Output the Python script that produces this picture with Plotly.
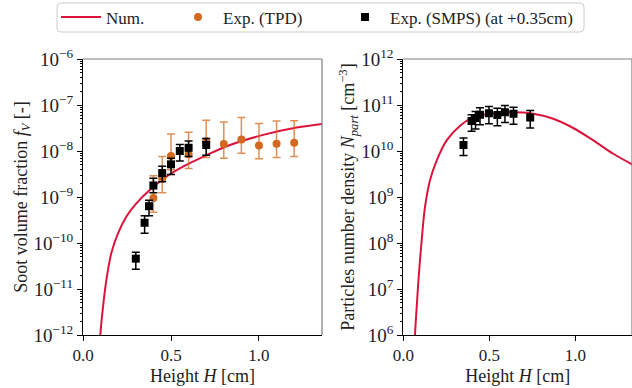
import plotly.graph_objects as go
import numpy as np

# ---------------- data ----------------
# Left: soot volume fraction (log10 values)
H_num_fv = [0.090, 0.0985, 0.114, 0.133, 0.161, 0.199, 0.246, 0.303, 0.379, 0.473, 0.568,
            0.703, 0.835, 1.024, 1.214, 1.36]
log_num_fv = [-13.0, -12.0, -11.38, -10.80, -10.22, -9.79, -9.43, -9.14, -8.85, -8.56, -8.34,
              -8.09, -7.87, -7.65, -7.49, -7.41]

H_tpd = [0.40, 0.45, 0.50, 0.60, 0.70, 0.80, 0.90, 1.00, 1.10, 1.20]
log_tpd = [-9.02, -8.60, -8.11, -8.07, -7.79, -7.85, -7.75, -7.88, -7.84, -7.82]
log_tpd_hi = [-8.54, -8.12, -7.63, -7.59, -7.33, -7.37, -7.27, -7.40, -7.35, -7.34]
log_tpd_lo = [-9.33, -8.91, -8.41, -8.38, -8.14, -8.16, -8.05, -8.17, -8.14, -8.12]

H_smps_fv = [0.30, 0.35, 0.375, 0.40, 0.45, 0.50, 0.55, 0.60, 0.70]
log_smps_fv = [-10.34, -9.56, -9.20, -8.75, -8.48, -8.29, -8.00, -7.93, -7.87]
log_smps_fv_hi = [-10.20, -9.41, -9.07, -8.59, -8.33, -8.16, -7.86, -7.78, -7.73]
log_smps_fv_lo = [-10.57, -9.79, -9.41, -8.91, -8.67, -8.51, -8.22, -8.12, -8.09]

# Right: particle number density (log10 values)
H_num_np = [0.062, 0.068, 0.078, 0.091, 0.107, 0.126, 0.155, 0.194, 0.252, 0.33, 0.407,
            0.523, 0.62, 0.756, 0.872, 0.988, 1.105, 1.221, 1.34]
log_num_np = [5.3, 6.0, 6.61, 7.34, 8.06, 8.78, 9.36, 9.79, 10.23, 10.55, 10.73,
              10.82, 10.84, 10.81, 10.70, 10.50, 10.23, 9.94, 9.69]

H_smps_np = [0.35, 0.397, 0.42, 0.446, 0.498, 0.547, 0.591, 0.641, 0.738]
log_smps_np = [10.13, 10.65, 10.72, 10.79, 10.82, 10.78, 10.84, 10.81, 10.73]
log_smps_np_hi = [10.28, 10.79, 10.86, 10.94, 10.97, 10.93, 10.99, 10.95, 10.88]
log_smps_np_lo = [9.90, 10.43, 10.48, 10.57, 10.59, 10.55, 10.62, 10.58, 10.50]

x_ticks = [0.0, 0.5, 1.0]
x_ticklabels = ["0.0", "0.5", "1.0"]
fv_exps = list(range(-12, -5))
np_exps = list(range(6, 13))

# ---------------- helpers ----------------
def p10(a):
    return np.power(10.0, np.array(a, dtype=float))

def errs(val, hi, lo):
    v = p10(val)
    return p10(hi) - v, v - p10(lo)

RED = "#dc143c"
ORANGE = "#d2691e"
ORANGE_ERR = "rgba(210,105,30,0.75)"
FONT = "Liberation Serif"
TXT = "#222222"

fig = go.Figure()

# Left subplot
fig.add_trace(go.Scatter(x=H_num_fv, y=p10(log_num_fv), mode="lines", line=dict(color=RED, width=2),
                         line_shape="spline", name="Num.", legend="legend", xaxis="x", yaxis="y"))
ep, em = errs(log_tpd, log_tpd_hi, log_tpd_lo)
fig.add_trace(go.Scatter(x=H_tpd, y=p10(log_tpd), mode="markers",
                         marker=dict(color=ORANGE, size=8, symbol="circle"),
                         error_y=dict(type="data", array=ep, arrayminus=em, symmetric=False,
                                      color=ORANGE_ERR, thickness=1.5, width=4),
                         name="Exp. (TPD)", legend="legend2", xaxis="x", yaxis="y"))
ep, em = errs(log_smps_fv, log_smps_fv_hi, log_smps_fv_lo)
fig.add_trace(go.Scatter(x=H_smps_fv, y=p10(log_smps_fv), mode="markers",
                         marker=dict(color="black", size=8, symbol="square"),
                         error_y=dict(type="data", array=ep, arrayminus=em, symmetric=False,
                                      color="black", thickness=1.5, width=4),
                         name="Exp. (SMPS) (at +0.35cm)", legend="legend3", xaxis="x", yaxis="y"))

# Right subplot
fig.add_trace(go.Scatter(x=H_num_np, y=p10(log_num_np), mode="lines", line=dict(color=RED, width=2),
                         line_shape="spline", showlegend=False, xaxis="x2", yaxis="y2"))
ep, em = errs(log_smps_np, log_smps_np_hi, log_smps_np_lo)
fig.add_trace(go.Scatter(x=H_smps_np, y=p10(log_smps_np), mode="markers",
                         marker=dict(color="black", size=8, symbol="square"),
                         error_y=dict(type="data", array=ep, arrayminus=em, symmetric=False,
                                      color="black", thickness=1.5, width=4),
                         showlegend=False, xaxis="x2", yaxis="y2"))

W, Hh = 632, 388
def px(x):
    return x / W
def py(y):
    return 1 - y / Hh

def sup(e):
    s = str(e).replace("-", "\u2212")
    return "10<sup>" + s + "</sup>"

def yaxis(exps, title, anchor, standoff):
    minor_vals = [k * 10.0 ** e for e in exps[:-1] for k in range(2, 10)]
    return dict(type="log", range=[exps[0], exps[-1]], tickvals=[10.0 ** e for e in exps],
                ticktext=[sup(e) for e in exps], ticks="outside", ticklen=5, tickwidth=1,
                tickcolor="black", showline=True, linecolor="black", linewidth=1,
                showgrid=False, zeroline=False, automargin=False,
                tickfont=dict(family=FONT, size=19, color=TXT),
                minor=dict(tickmode="array", tickvals=minor_vals, ticks="outside", ticklen=2.5,
                           tickwidth=0.8, tickcolor="black", showgrid=False),
                title=dict(text=title, font=dict(family=FONT, size=18, color=TXT), standoff=standoff),
                domain=[py(335), py(59)], anchor=anchor)

def xaxis(rng, dom, anchor):
    return dict(range=rng, tickvals=x_ticks, ticktext=x_ticklabels, ticks="outside", ticklen=5,
                tickcolor="black", showline=True, linecolor="black", linewidth=1,
                showgrid=False, zeroline=False, automargin=False,
                tickfont=dict(family=FONT, size=17, color=TXT),
                title=dict(text="Height <i>H</i> [cm]", font=dict(family=FONT, size=18, color=TXT),
                           standoff=4),
                domain=dom, anchor=anchor)

leg_font = dict(family=FONT, size=17, color=TXT)
fig.update_layout(
    width=W, height=Hh, margin=dict(l=0, r=0, t=0, b=0, autoexpand=False),
    paper_bgcolor="white", plot_bgcolor="white",
    font=dict(family=FONT, size=17, color=TXT),
    xaxis=xaxis([0, 1.358], [px(83), px(322)], "y"),
    yaxis=yaxis(fv_exps, "Soot volume fraction <i>f<sub>V</sub></i> [-]", "x", 0),
    xaxis2=xaxis([0, 1.33], [px(403.3), 1.0], "y2"),
    yaxis2=yaxis(np_exps, "Particles number density <i>N<sub>part</sub></i> [cm<sup>\u22123</sup>]", "x2", 0),
    legend=dict(x=px(56), y=py(17.5), xanchor="left", yanchor="middle", bgcolor="rgba(0,0,0,0)",
                font=leg_font, itemwidth=40),
    legend2=dict(x=px(173), y=py(17.5), xanchor="left", yanchor="middle", bgcolor="rgba(0,0,0,0)",
                 font=leg_font, itemwidth=40),
    legend3=dict(x=px(340), y=py(17.5), xanchor="left", yanchor="middle", bgcolor="rgba(0,0,0,0)",
                 font=leg_font, itemwidth=40),
)

# top/right frame lines (gray) for both subplots
for xr, yr in (("x domain", "y domain"), ("x2 domain", "y2 domain")):
    fig.add_shape(type="line", xref=xr, yref=yr, x0=0, x1=1, y0=1, y1=1,
                  line=dict(color="#7f7f7f", width=1.2))
    fig.add_shape(type="line", xref=xr, yref=yr, x0=1, x1=1, y0=0, y1=1,
                  line=dict(color="#7f7f7f", width=1.2))

# rounded legend frame
x0, x1, y0, y1 = px(57), px(584), py(3), py(32)
rx, ry = 4 / W, 4 / Hh
path = (f"M {x0+rx},{y0} L {x1-rx},{y0} Q {x1},{y0} {x1},{y0-ry} "
        f"L {x1},{y1+ry} Q {x1},{y1} {x1-rx},{y1} L {x0+rx},{y1} Q {x0},{y1} {x0},{y1+ry} "
        f"L {x0},{y0-ry} Q {x0},{y0} {x0+rx},{y0} Z")
fig.add_shape(type="path", xref="paper", yref="paper", path=path,
              line=dict(color="#cccccc", width=1), fillcolor="rgba(255,255,255,0.8)", layer="below")

fig.write_html("out.html", config={"displayModeBar": False},
               post_script="document.body.style.margin='0px';")
